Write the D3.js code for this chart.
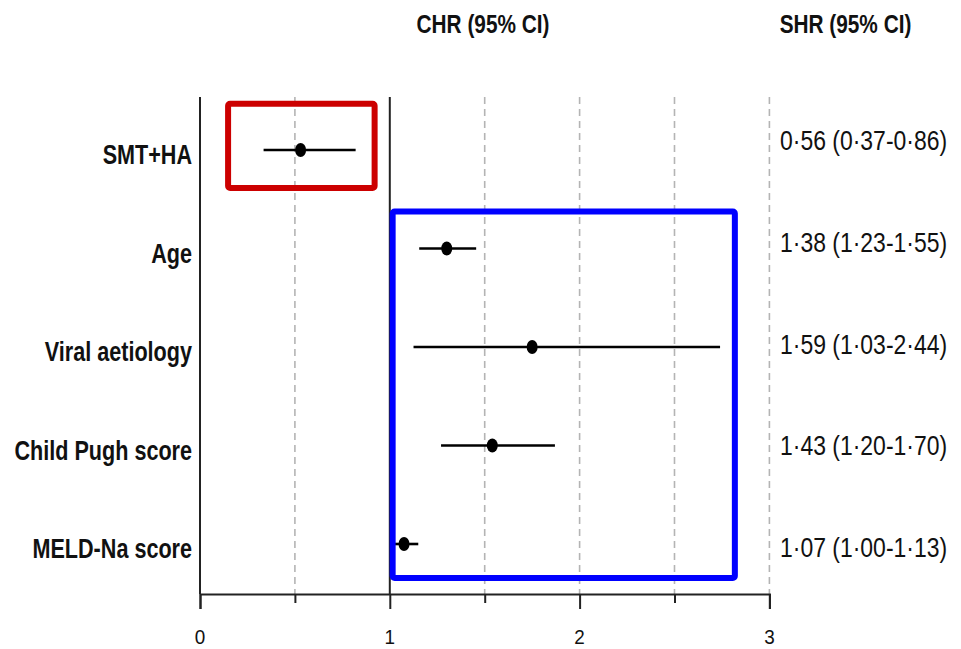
<!DOCTYPE html>
<html>
<head>
<meta charset="utf-8">
<script src="https://cdn.jsdelivr.net/npm/d3@7"></script>
<style>
  html, body { margin: 0; padding: 0; background: #fff; }
  svg { display: block; }
  text { font-family: 'Liberation Sans', Arial, 'DejaVu Sans', sans-serif; }
</style>
</head>
<body>
<svg id="chart" width="961" height="649"></svg>
<script>
// Predictors shown on the forest plot, top to bottom
const predictors = ["SMT+HA", "Age", "Viral aetiology", "Child Pugh score", "MELD-Na score"];
// Cause-specific hazard ratios with 95% CI (plotted)
const chrEstimate = [0.53, 1.30, 1.75, 1.54, 1.075];
const chrLower    = [0.335, 1.155, 1.125, 1.27, 1.02];
const chrUpper    = [0.82, 1.455, 2.74, 1.87, 1.15];
// Subdistribution hazard ratios (text column)
const shrLabels = [
  "0·56 (0·37-0·86)",
  "1·38 (1·23-1·55)",
  "1·59 (1·03-2·44)",
  "1·43 (1·20-1·70)",
  "1·07 (1·00-1·13)"
];
// Axis ticks
const tickValues = [0, 0.5, 1, 1.5, 2, 2.5, 3];
const tickLabels = [0, 1, 2, 3];
const gridValues = [0.5, 1.5, 2, 2.5, 3];
// Highlight frames: hazard-ratio span and the predictors enclosed
const frames = [
  { from: "SMT+HA", to: "SMT+HA", x0: 0.148, x1: 0.92, color: "#cc0000" },
  { from: "Age", to: "MELD-Na score", x0: 1.015, x1: 2.818, color: "#0000ff" }
];

const svg = d3.select("#chart");
const plotTop = 97, axisY = 594;
const squeeze = 0.8; // horizontal condensing applied to the lettering

const x = d3.scaleLinear().domain([0, 3]).range([200, 769.4]);
const y = d3.scalePoint().domain(predictors).range([150, 544]);
const yText = d3.scalePoint().domain(predictors).range([150, 557]);

// Dashed reference grid
svg.append("g").selectAll("line").data(gridValues).join("line")
  .attr("x1", d => x(d)).attr("x2", d => x(d))
  .attr("y1", plotTop).attr("y2", axisY)
  .attr("stroke", "#b4b4b4").attr("stroke-width", 1.6)
  .attr("stroke-dasharray", "7,5");

// Solid lines at 0 and at the null value 1
svg.append("g").selectAll("line").data([0, 1]).join("line")
  .attr("x1", d => x(d)).attr("x2", d => x(d))
  .attr("y1", plotTop).attr("y2", axisY)
  .attr("stroke", "#222").attr("stroke-width", 2);

// Bottom axis (ticks only; labels drawn below)
const axis = d3.axisBottom(x)
  .tickValues(tickValues)
  .tickSizeOuter(0)
  .tickSize(15)
  .tickFormat("");
const gAxis = svg.append("g").attr("transform", `translate(0,${axisY})`).call(axis);
gAxis.select(".domain").attr("stroke", "#222").attr("stroke-width", 2);
gAxis.selectAll(".tick line")
  .attr("stroke", "#222").attr("stroke-width", 2)
  .attr("y2", d => Number.isInteger(d) ? 15 : 9);

svg.append("g").selectAll("text").data(tickLabels).join("text")
  .attr("transform", d => `translate(${x(d)},644) scale(0.9,1)`)
  .attr("text-anchor", "middle")
  .style("font-size", "21px").attr("fill", "#111")
  .text(d => d);

// Confidence intervals
const rows = predictors.map((p, i) => ({ p, est: chrEstimate[i], lo: chrLower[i], hi: chrUpper[i], shr: shrLabels[i] }));
svg.append("g").selectAll("line").data(rows).join("line")
  .attr("x1", d => x(d.lo)).attr("x2", d => x(d.hi))
  .attr("y1", d => y(d.p)).attr("y2", d => y(d.p))
  .attr("stroke", "#000").attr("stroke-width", 2.6);

// Point estimates
svg.append("g").selectAll("ellipse").data(rows).join("ellipse")
  .attr("cx", d => x(d.est)).attr("cy", d => y(d.p))
  .attr("rx", 5.5).attr("ry", 7)
  .attr("fill", "#000");

// Highlight frames
const padTop = d => d.from === predictors[0] ? 46.3 : 37;
const padBottom = d => d.from === predictors[0] ? 38 : 34;
svg.append("g").selectAll("rect").data(frames).join("rect")
  .attr("x", d => x(d.x0))
  .attr("width", d => x(d.x1) - x(d.x0))
  .attr("y", d => y(d.from) - padTop(d))
  .attr("height", d => y(d.to) + padBottom(d) - (y(d.from) - padTop(d)))
  .attr("rx", 2)
  .attr("fill", "none")
  .attr("stroke", d => d.color)
  .attr("stroke-width", 6);

// Predictor names
svg.append("g").selectAll("text").data(rows).join("text")
  .attr("transform", d => `translate(192,${y(d.p) + 14}) scale(${squeeze},1)`)
  .attr("text-anchor", "end")
  .style("font-size", "27px").attr("font-weight", "bold").attr("fill", "#111")
  .text(d => d.p);

// SHR text column
svg.append("g").selectAll("text").data(rows).join("text")
  .attr("transform", d => `translate(780,${yText(d.p)}) scale(0.82,1)`)
  .style("font-size", "28px").attr("fill", "#111")
  .text(d => d.shr);

// Column headers
const headers = [{ t: "CHR (95% CI)", cx: 483 }, { t: "SHR (95% CI)", cx: 845.5 }];
svg.append("g").selectAll("text").data(headers).join("text")
  .attr("transform", d => `translate(${d.cx},33) scale(${squeeze},1)`)
  .attr("text-anchor", "middle")
  .style("font-size", "26px").attr("font-weight", "bold").attr("fill", "#111")
  .text(d => d.t);
</script>
</body>
</html>
